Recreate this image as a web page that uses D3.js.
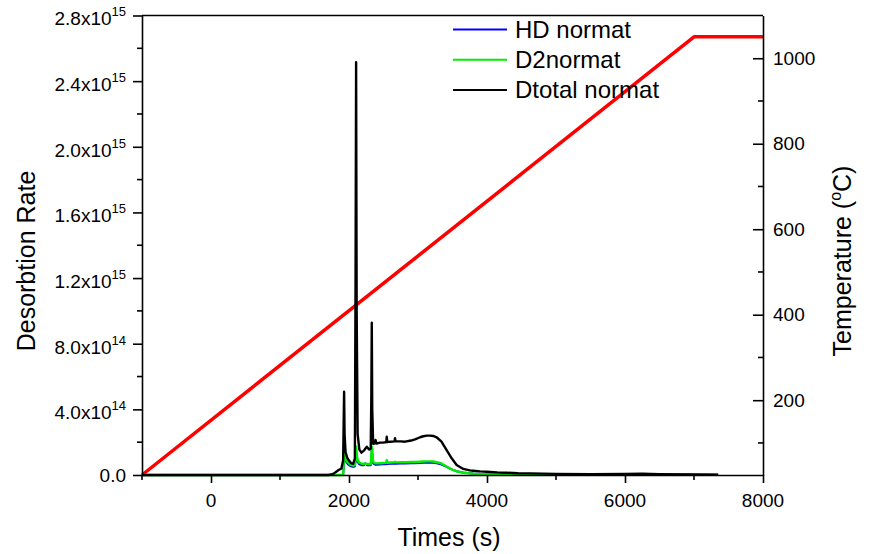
<!DOCTYPE html>
<html>
<head>
<meta charset="utf-8">
<script src="https://cdn.jsdelivr.net/npm/d3@7"></script>
<style>
  html, body { margin: 0; padding: 0; background: #fff; }
  svg { display: block; font-family: "Liberation Sans", Arial, sans-serif; }
</style>
</head>
<body>
<svg id="chart" width="870" height="554"></svg>
<script>
// Desorption time series (rates in units of 1e14)
const UNIT = 1e14;
const times = [-1000, 0, 1000, 1700, 1760, 1800, 1850, 1890, 1915, 1922, 1929, 1936, 1950, 1975, 2000, 2030, 2060, 2085, 2095, 2103, 2111, 2125, 2150, 2180, 2220, 2235, 2258, 2290, 2315, 2324, 2330, 2337, 2350, 2378, 2385, 2400, 2450, 2500, 2540, 2547, 2555, 2600, 2660, 2667, 2675, 2750, 2812, 2900, 2957, 3030, 3077, 3130, 3175, 3220, 3270, 3340, 3415, 3488, 3560, 3656, 3750, 3800, 3900, 3995, 4150, 4283, 4450, 4621, 5000, 5500, 6000, 6250, 6500, 7000, 7350];

const hdNormat = [0, 0, 0, 0, 0, 0, 0, 0, 0, 0.4, 1.3, 1.1, 0.85, 0.7, 0.6, 0.52, 0.5, 0.52, 0.85, 1.5, 1.2, 0.8, 0.65, 0.6, 0.6, 0.72, 0.6, 0.6, 0.6, 1.0, 1.5, 1.3, 0.7, 0.63, 0.63, 0.63, 0.64, 0.65, 0.66, 0.8, 0.67, 0.68, 0.69, 0.72, 0.69, 0.7, 0.7, 0.71, 0.71, 0.73, 0.74, 0.75, 0.75, 0.74, 0.71, 0.64, 0.5, 0.34, 0.23, 0.15, 0.11, 0.09, 0.07, 0.06, 0.05, 0.04, 0.03, 0.03, 0.02, 0.02, 0.02, 0.02, 0.02, 0.01, 0.01];

const d2Normat = [0, 0, 0, 0, 0, 0, 0, 0, 0, 0.6, 1.63, 1.2, 0.95, 0.81, 0.7, 0.61, 0.58, 0.6, 1.0, 1.72, 1.3, 0.9, 0.75, 0.7, 0.67, 0.7, 0.68, 0.67, 0.67, 1.2, 1.72, 1.5, 0.8, 0.71, 0.71, 0.71, 0.72, 0.73, 0.74, 0.91, 0.75, 0.76, 0.77, 0.8, 0.77, 0.78, 0.78, 0.79, 0.79, 0.81, 0.82, 0.83, 0.83, 0.82, 0.78, 0.7, 0.52, 0.34, 0.22, 0.14, 0.1, 0.08, 0.06, 0.05, 0.04, 0.03, 0.02, 0.02, 0.01, 0.01, 0.01, 0.01, 0.01, 0.01, 0.01];

const dtotalNormat = [0, 0, 0, 0, 0.05, 0.15, 0.3, 0.4, 0.9, 3.0, 5.07, 2.5, 1.4, 1.05, 0.88, 0.72, 0.68, 1.0, 12, 25.15, 10, 2.5, 1.55, 1.36, 1.5, 1.6, 1.72, 1.55, 1.6, 5, 9.28, 4, 1.9, 1.93, 2.13, 1.92, 1.97, 1.98, 2.0, 2.33, 2.0, 2.03, 2.05, 2.24, 2.05, 2.05, 2.03, 2.1, 2.17, 2.3, 2.36, 2.4, 2.4, 2.38, 2.3, 2.03, 1.52, 1.02, 0.61, 0.37, 0.28, 0.26, 0.22, 0.2, 0.16, 0.14, 0.11, 0.1, 0.07, 0.05, 0.06, 0.08, 0.05, 0.03, 0.02];

// Temperature programme
const tempTimes = [-1000, 7000, 8000];
const tempValues = [25, 1050, 1050];

// Axis ticks
const xMajor = [0, 2000, 4000, 6000, 8000];
const xMinor = [-1000, 1000, 3000, 5000, 7000];
const leftMajor = [0, 4e14, 8e14, 1.2e15, 1.6e15, 2.0e15, 2.4e15, 2.8e15];
const leftMinor = [2e14, 6e14, 1.0e15, 1.4e15, 1.8e15, 2.2e15, 2.6e15];
const leftMantissa = ["0.0", "4.0", "8.0", "1.2", "1.6", "2.0", "2.4", "2.8"];
const leftExponent = ["", "14", "14", "15", "15", "15", "15", "15"];
const rightMajor = [200, 400, 600, 800, 1000];
const rightMinor = [100, 300, 500, 700, 900];

const seriesNames = ["HD normat", "D2normat", "Dtotal normat"];
const seriesColors = ["#0000ff", "#00ee00", "#000000"];

const svg = d3.select("#chart");
const L = 142, R = 763, T = 15.5, B = 475;

const x = d3.scaleLinear().domain([-1000, 8000]).range([L, R]);
const yL = d3.scaleLinear().domain([0, 2.8e15]).range([B, T]);
const yR = d3.scaleLinear().domain([25, 1100]).range([B, T]);

// Temperature line (drawn beneath the rate curves)
const tempLine = d3.line().x((d, i) => x(tempTimes[i])).y(d => yR(d));
svg.append("path").datum(tempValues)
  .attr("d", tempLine)
  .attr("fill", "none").attr("stroke", "#ff0000").attr("stroke-width", 3.5)
  .attr("stroke-linejoin", "round");

const rateLine = d3.line().x((d, i) => x(times[i])).y(d => yL(d * UNIT));
[hdNormat, d2Normat, dtotalNormat].forEach((s, k) => {
  svg.append("path").datum(s)
    .attr("d", rateLine)
    .attr("fill", "none")
    .attr("stroke", seriesColors[k])
    .attr("stroke-width", k === 0 ? 2 : 2.4)
    .attr("stroke-linejoin", "round");
});

// Frame
const axisStroke = 1.6;
svg.append("line").attr("x1", L).attr("x2", R).attr("y1", T).attr("y2", T)
  .attr("stroke", "#000").attr("stroke-width", axisStroke);

// Bottom axis
const gx = svg.append("g").attr("transform", `translate(0,${B})`);
gx.call(d3.axisBottom(x).tickValues(xMajor).tickSize(8).tickSizeOuter(0).tickFormat(""));
gx.selectAll("line.minor").data(xMinor).join("line").attr("class", "minor")
  .attr("x1", d => x(d)).attr("x2", d => x(d)).attr("y1", 0).attr("y2", 5);
gx.selectAll("text.lbl").data(xMajor).join("text").attr("class", "lbl")
  .attr("x", d => x(d)).attr("y", 32).attr("text-anchor", "middle")
  .attr("fill", "#000").attr("font-size", 19).text(d => d);

// Left axis
const gl = svg.append("g").attr("transform", `translate(${L},0)`);
gl.call(d3.axisLeft(yL).tickValues(leftMajor).tickSize(9).tickSizeOuter(0).tickFormat(""));
gl.selectAll("line.minor").data(leftMinor).join("line").attr("class", "minor")
  .attr("x1", 0).attr("x2", -5).attr("y1", d => yL(d)).attr("y2", d => yL(d));
const ll = gl.selectAll("text.lbl").data(leftMajor).join("text").attr("class", "lbl")
  .attr("x", -16).attr("y", (d, i) => yL(d) + (leftExponent[i] ? 9.8 : 6.7))
  .attr("text-anchor", "end").attr("fill", "#000").attr("font-size", 19);
ll.each(function(d, i) {
  const t = d3.select(this);
  t.append("tspan").text(leftMantissa[i] + (leftExponent[i] ? "x10" : ""));
  if (leftExponent[i]) {
    t.append("tspan").attr("dy", -9).attr("font-size", 13).text(leftExponent[i]);
  }
});

// Right axis (ticks point into the plot)
const gr = svg.append("g").attr("transform", `translate(${R},0)`);
gr.call(d3.axisLeft(yR).tickValues(rightMajor).tickSize(10).tickSizeOuter(0).tickFormat(""));
gr.selectAll("line.minor").data(rightMinor).join("line").attr("class", "minor")
  .attr("x1", 0).attr("x2", -5).attr("y1", d => yR(d)).attr("y2", d => yR(d));
gr.selectAll("text.lbl").data(rightMajor).join("text").attr("class", "lbl")
  .attr("x", 10).attr("y", d => yR(d) + 6.7)
  .attr("text-anchor", "start").attr("fill", "#000").attr("font-size", 19).text(d => d);

svg.selectAll(".domain").attr("stroke", "#000").attr("stroke-width", axisStroke);
svg.selectAll(".tick line, line.minor").attr("stroke", "#000").attr("stroke-width", axisStroke);

// Axis titles
svg.append("text").attr("x", 449).attr("y", 546).attr("text-anchor", "middle")
  .attr("font-size", 25).text("Times (s)");
svg.append("text").attr("transform", "translate(35,261) rotate(-90)")
  .attr("text-anchor", "middle").attr("font-size", 25).text("Desorbtion Rate");
const tt = svg.append("text").attr("transform", "translate(851,261) rotate(-90)")
  .attr("text-anchor", "middle").attr("font-size", 25);
tt.append("tspan").text("Temperature (");
tt.append("tspan").attr("dy", -10).attr("font-size", 16).text("o");
tt.append("tspan").attr("dy", 10).text("C)");

// Legend
const lg = svg.append("g");
seriesNames.forEach((n, i) => {
  const cy = 29.5 + i * 30.2;
  lg.append("line").attr("x1", 453).attr("x2", 507).attr("y1", cy).attr("y2", cy)
    .attr("stroke", seriesColors[i]).attr("stroke-width", 2);
  lg.append("text").attr("x", 515).attr("y", cy + 8.5).attr("font-size", 24).text(n);
});
</script>
</body>
</html>
